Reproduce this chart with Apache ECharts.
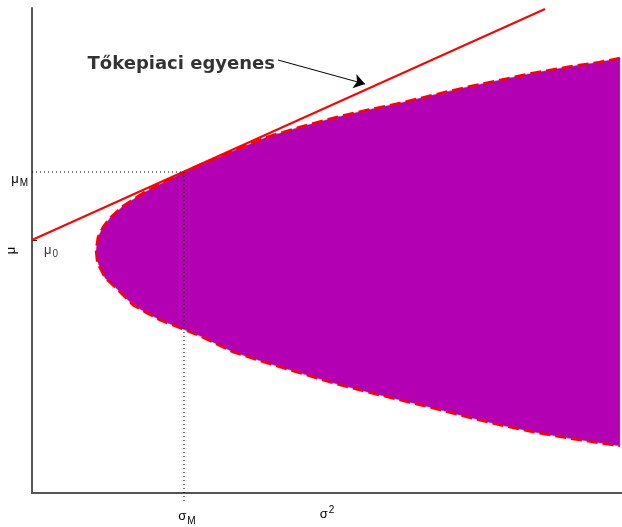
<!DOCTYPE html>
<html><head><meta charset="utf-8">
<script src="https://cdn.jsdelivr.net/npm/echarts@6/dist/echarts.min.js"></script>
<style>html,body{margin:0;padding:0;background:#fff}#c{width:622px;height:527px}</style>
</head><body><div id="c"></div>
<script>
// Efficient frontier (upper branch, right -> vertex), σ² vs μ
const upperSigma2 = [5.88,5.68,5.35,5.01,4.68,4.35,4.01,3.68,3.35,3.01,2.68,2.35,2.01,1.68,1.53,1.36,1.11,0.91,0.78,0.71,0.66,0.64];
const upperMu     = [4.35,4.31,4.26,4.20,4.13,4.06,3.98,3.90,3.83,3.75,3.66,3.56,3.42,3.28,3.21,3.13,3.00,2.87,2.75,2.66,2.56,2.43];
// lower branch, vertex -> right
const lowerSigma2 = [0.65,0.68,0.73,0.83,0.91,1.01,1.15,1.28,1.53,1.68,2.01,2.35,2.68,3.01,3.35,3.68,4.01,4.35,4.68,5.01,5.35,5.68,5.88];
const lowerMu     = [2.33,2.25,2.15,2.06,1.98,1.88,1.80,1.73,1.63,1.57,1.41,1.30,1.20,1.10,1.01,0.93,0.85,0.76,0.68,0.61,0.55,0.50,0.47];
// Capital market line
const cmlSigma2 = [0, 5.13];
const cmlMu     = [2.53, 4.84];
// Market portfolio and risk-free point
const sigmaM = 1.52, muM = 3.21, mu0 = 2.53;
// Annotation arrow
const arrowFrom = [2.46, 4.33], arrowTo = [3.33, 4.09];
const annotText = 'Tőkepiaci egyenes';
const annotPos = [2.44, 4.29];

const polyX = upperSigma2.concat(lowerSigma2);
const polyY = upperMu.concat(lowerMu);
const boundary = polyX.map((x,i)=>[x, polyY[i]]);
const cml = cmlSigma2.map((x,i)=>[x, cmlMu[i]]);

const FF = 'Liberation Sans, Arial, sans-serif';
const richSub = {
  a:{fontSize:13, fontFamily:FF, color:'#000'},
  b:{fontSize:10, fontFamily:FF, color:'#000', padding:[9,0,0,1]},
  s:{fontSize:10, fontFamily:FF, color:'#000', padding:[0,0,9,1]}
};

const chart = echarts.init(document.getElementById('c'), null, {renderer:'canvas'});
chart.setOption({
  animation:false,
  backgroundColor:'#fff',
  grid:{left:32, right:0, top:8, bottom:34, containLabel:false, outerBoundsMode:'none'},
  xAxis:{
    type:'value', min:0, max:5.9,
    axisLine:{show:true, onZero:false, lineStyle:{color:'#555', width:2}},
    axisTick:{show:false}, splitLine:{show:false},
    axisLabel:{customValues:[sigmaM], margin:14, formatter:()=>'{a|σ}{b|M}', rich:richSub, padding:[0,0,0,6]},
    name:'{a|σ}{s|2}', nameLocation:'middle', nameGap:12, nameMoveOverlap:false,
    nameTextStyle:{rich:richSub, verticalAlign:'top'}
  },
  yAxis:{
    type:'value', min:0, max:4.85,
    axisLine:{show:true, onZero:false, lineStyle:{color:'#555', width:2}},
    axisTick:{show:true, inside:true, length:5, customValues:[mu0], lineStyle:{color:'#222', width:1}},
    splitLine:{show:false},
    axisLabel:{customValues:[muM], margin:4, formatter:()=>'{a|μ}{b|M}', rich:richSub, padding:[14,0,0,0]},
    name:'μ', nameLocation:'middle', nameGap:14, nameRotate:90, nameMoveOverlap:false,
    nameTextStyle:{fontSize:13, fontFamily:FF, color:'#000'}
  },
  series:[
    {
      type:'custom', z:1, silent:true, data:[[0,0]],
      renderItem:(params, api)=>{
        const pts = polyX.map((x,i)=>api.coord([x, polyY[i]]));
        return {type:'polygon', shape:{points:pts}, style:{fill:'#b200b2', stroke:'#c050c0', lineWidth:0.5}};
      }
    },
    {
      type:'line', z:2, silent:true, data:boundary, symbol:'none', smooth:false,
      lineStyle:{color:'#ff0000', width:2.6, type:[11,5]}
    },
    {
      type:'line', z:3, silent:true, data:cml, symbol:'none',
      lineStyle:{color:'#ff0000', width:2}
    },
    {
      type:'line', z:4, silent:true, data:[[0,muM],[sigmaM,muM]], symbol:'none',
      lineStyle:{color:'#000', width:1, type:[1,3]}
    },
    {
      type:'line', z:4, silent:true, clip:false, data:[[sigmaM,muM],[sigmaM,-0.1]], symbol:'none',
      lineStyle:{color:'#000', width:1, type:[1,3]},
      markLine:{
        silent:true, symbol:['none','arrow'], symbolSize:11, animation:false,
        label:{show:false},
        lineStyle:{color:'#000', width:1, type:'solid'},
        data:[[{coord:arrowFrom},{coord:arrowTo}]]
      }
    },
    {
      type:'scatter', z:5, silent:true, symbolSize:0, data:[[0, mu0]],
      label:{show:true, position:'right', offset:[7,10], formatter:()=>'{a|μ}{b|0}', rich:richSub}
    },
    {
      type:'scatter', z:5, silent:true, symbolSize:0, data:[annotPos],
      label:{show:true, position:'left', distance:1, formatter:annotText,
        fontFamily:'DejaVu Sans', fontWeight:'bold', fontSize:18, color:'#000', textBorderWidth:0}
    }
  ]
});
</script></body></html>
